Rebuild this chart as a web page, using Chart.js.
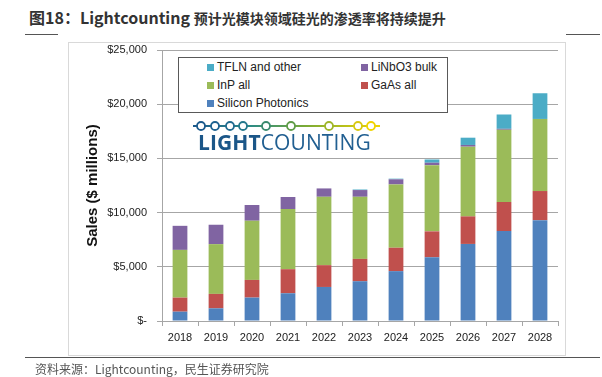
<!DOCTYPE html>
<html>
<head>
<meta charset="utf-8">
<script src="https://cdn.jsdelivr.net/npm/chart.js@4/dist/chart.umd.min.js"></script>
<style>
  html, body { margin:0; padding:0; background:#fff; }
  body { width:602px; height:377px; position:relative; overflow:hidden; font-family:"Liberation Sans", Arial, sans-serif; }
  #title { position:absolute; left:29px; top:5px; font-family:"Noto Sans CJK SC", sans-serif; font-weight:bold; color:#333; white-space:nowrap; }
  #title .a { font-size:16px; }
  #title .b { font-size:14px; }
  .rule { position:absolute; height:1px; background:#555; }
  #frame { position:absolute; left:68px; top:42px; width:496px; height:312px; border:1px solid #d9d9d9; background:#fff; }
  #wrap { position:absolute; left:0; top:0; width:602px; height:377px; }
  #legend { position:absolute; left:178px; top:57px; width:268px; height:54px; border:1px solid #595959; background:#fff; font-family:"Liberation Sans", sans-serif; font-size:12px; color:#222; }
  .li { position:absolute; white-space:nowrap; line-height:14px; }
  .li i { display:inline-block; width:7px; height:7px; margin-right:3px; vertical-align:0px; }
  #logo { position:absolute; left:190px; top:116px; width:200px; height:20px; }
  #logotext { position:absolute; left:198px; top:128px; font-family:"Open Sans", sans-serif; font-size:21px; color:#215f91; white-space:nowrap; letter-spacing:0.1px; }
  #logotext b { font-weight:bold; color:#1b5688; }
  #source { position:absolute; left:35px; top:360px; font-family:"Noto Sans CJK SC", sans-serif; font-size:12px; color:#555; white-space:nowrap; line-height:17px; }
</style>
</head>
<body>
<div id="title"><span class="a">图18：Lightcounting </span><span class="b">预计光模块领域硅光的渗透率将持续提升</span></div>
<div class="rule" style="left:25px; top:34px; width:33px;"></div>
<div class="rule" style="left:566px; top:34px; width:34px;"></div>
<div id="frame"></div>
<div id="wrap"><canvas id="c" width="602" height="377"></canvas></div>
<div id="legend"></div>
<svg id="logo" width="200" height="20" viewBox="0 0 200 20">
  <defs>
    <linearGradient id="g" gradientUnits="userSpaceOnUse" x1="3" y1="0" x2="190" y2="0">
      <stop offset="0" stop-color="#1b5a8c"/>
      <stop offset="0.3" stop-color="#2a8a86"/>
      <stop offset="0.6" stop-color="#7aaa36"/>
      <stop offset="1" stop-color="#f0d400"/>
    </linearGradient>
  </defs>
  <line x1="3" y1="10" x2="190" y2="10" stroke="url(#g)" stroke-width="2"/>
  <g fill="#fff" stroke-width="1.8">
    <circle cx="11" cy="10" r="4" stroke="#1b5a8c"/>
    <circle cx="25" cy="10" r="4" stroke="#1d6190"/>
    <circle cx="40" cy="10" r="4" stroke="#216b90"/>
    <circle cx="53" cy="10" r="4" stroke="#25788c"/>
    <circle cx="76" cy="10" r="4" stroke="#3a8a6e"/>
    <circle cx="101" cy="10" r="4" stroke="#5f9c48"/>
    <circle cx="139" cy="10" r="4" stroke="#9fb52a"/>
    <circle cx="168" cy="10" r="4" stroke="#d8c810"/>
    <circle cx="181" cy="10" r="4" stroke="#f0d400"/>
  </g>
</svg>
<div id="logotext"><b>LIGHT</b>COUNTING</div>
<div class="rule" style="left:25px; top:357px; width:575px;"></div>
<div id="source">资料来源：Lightcounting，民生证券研究院</div>
<script>
const years = ['2018','2019','2020','2021','2022','2023','2024','2025','2026','2027','2028'];
const siliconPhotonics = [860,1170,2160,2560,3140,3670,4600,5880,7110,8300,9300];
const gaAsAll = [1300,1330,1630,2220,2010,2060,2160,2390,2540,2680,2690];
const inPAll = [4400,4590,5460,5550,6310,5730,5840,6100,6430,6660,6650];
const liNbO3Bulk = [2220,1790,1450,1110,770,620,470,230,160,90,0];
const tflnAndOther = [0,0,0,0,0,50,60,300,670,1320,2370];
const seriesNames = ['Silicon Photonics','GaAs all','InP all','LiNbO3 bulk','TFLN and other'];
const seriesColors = ['#4f81bd','#c0504d','#9bbb59','#8064a2','#4bacc6'];
const yTicks = [0,5000,10000,15000,20000,25000];

const seriesData = [siliconPhotonics, gaAsAll, inPAll, liNbO3Bulk, tflnAndOther];
const datasets = seriesData.map((d,i)=>({
  label: seriesNames[i], data: d, backgroundColor: seriesColors[i],
  borderWidth: 0, barPercentage: 0.41, categoryPercentage: 1.0
}));

// HTML legend, built from series names/colors
const legendLayout = [[4,28,2],[3,182,2],[2,28,20],[1,182,20],[0,28,38]];
const lg = document.getElementById('legend');
legendLayout.forEach(([idx,x,y])=>{
  const d = document.createElement('div');
  d.className='li'; d.style.left=x+'px'; d.style.top=y+'px';
  d.innerHTML = '<i style="background:'+seriesColors[idx]+'"></i>'+seriesNames[idx];
  lg.appendChild(d);
});

new Chart(document.getElementById('c'), {
  type: 'bar',
  data: { labels: years, datasets },
  options: {
    responsive: false, animation: false,
    layout: { padding: { left: 84, right: 44, top: 50, bottom: 26 } },
    plugins: { legend: { display: false }, tooltip: { enabled: false } },
    scales: {
      x: {
        stacked: true,
        afterFit: s => { s.height = 30; },
        grid: { display: true, drawOnChartArea: false, offset: true, color: '#a6a6a6', tickLength: 5, tickColor: '#a6a6a6' },
        border: { color: '#a6a6a6' },
        ticks: { color: '#222', font: { family: 'Liberation Sans', size: 11 }, padding: 5, maxRotation: 0 }
      },
      y: {
        stacked: true, min: 0, max: 25000,
        afterFit: s => { s.width = 78; },
        afterBuildTicks: s => { s.ticks = yTicks.map(v=>({value:v})); },
        grid: { color: '#a6a6a6', tickLength: 5, tickColor: '#a6a6a6' },
        border: { color: '#a6a6a6' },
        ticks: {
          color: '#222', font: { family: 'Liberation Sans', size: 11 }, padding: 10,
          callback: v => v === 0 ? '$-' : '$' + v.toLocaleString('en-US')
        },
        title: { display: true, text: 'Sales ($ millions)', color: '#111', font: { family: 'Liberation Sans', size: 15, weight: 'bold' }, padding: 0 }
      }
    }
  }
});
</script>
</body>
</html>
